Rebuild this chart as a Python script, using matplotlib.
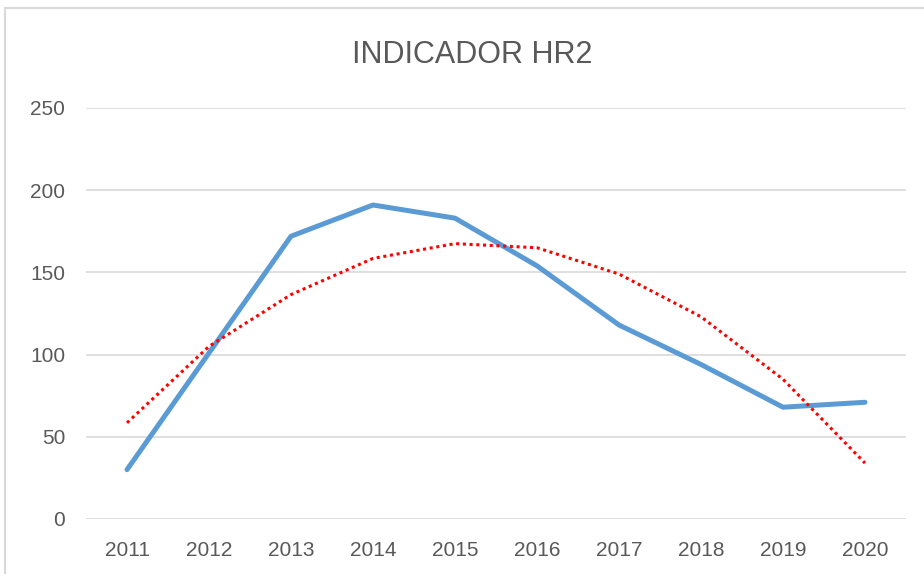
import matplotlib.pyplot as plt
from matplotlib.patches import Rectangle

# Data

years = ["2011", "2012", "2013", "2014", "2015", "2016", "2017", "2018", "2019", "2020"]
hr2 = [30, 101, 172, 191, 183, 154, 118, 94, 68, 71]
# polynomial trend line (as drawn by the spreadsheet), read at each year
trend = [58.5, 105, 136.5, 158.5, 167.5, 165, 149, 123, 85, 34]

plt.rcParams['font.family'] = ['Liberation Sans Narrow', 'Liberation Sans', 'DejaVu Sans']

fig = plt.figure(figsize=(9.24, 5.74), dpi=100)
ax = fig.add_axes([86 / 924, 55 / 574, 820 / 924, 411 / 574])

# Chart area border (cropped on right and bottom)
fig.patches.append(Rectangle((5 / 924, -0.05), 1.1, 1 - 8 / 574 + 0.05,
                             transform=fig.transFigure, fill=False,
                             edgecolor="#D9D9D9", linewidth=1.5))

x = range(len(years))
ax.plot(x, hr2, color="#5B9BD5", linewidth=3.6, solid_capstyle="round",
        solid_joinstyle="round", zorder=3)
ax.plot(x, trend, color="#FF0000", linewidth=2.2, linestyle=(0, (1, 1.2)),
        dash_capstyle="butt", zorder=4)

ax.set_xlim(-0.5, 9.5)
ax.set_ylim(0, 250)
ax.set_yticks([0, 50, 100, 150, 200, 250])
ax.set_xticks(list(x))
ax.set_xticklabels(years)

ax.grid(axis="y", color="#D9D9D9", linewidth=1.2)
ax.set_axisbelow(True)
for s in ax.spines.values():
    s.set_visible(False)
ax.tick_params(length=0, labelsize=15, labelcolor="#595959")
ax.tick_params(axis="x", pad=16)
ax.tick_params(axis="y", pad=15)

fig.text(472 / 924, 1 - 55 / 574, "INDICADOR HR2", ha="center", va="center",
         fontsize=22, color="#595959")

fig.savefig("out.png", dpi=100)
